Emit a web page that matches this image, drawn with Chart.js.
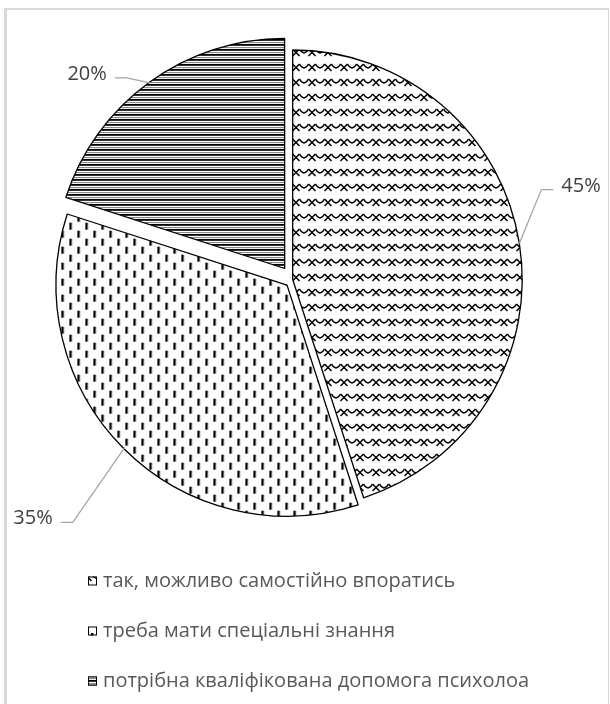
<!DOCTYPE html>
<html>
<head>
<meta charset="utf-8">
<script src="https://cdn.jsdelivr.net/npm/chart.js@4.4.0/dist/chart.umd.min.js"></script>
<style>
  html, body { margin: 0; padding: 0; background: #fff; }
  #wrap { position: relative; width: 610px; height: 704px; overflow: hidden; }
  #frame {
    position: absolute; left: 4px; top: 8px; width: 605px; height: 720px;
    box-sizing: border-box;
    border: 1px solid #d9d9d9; border-top-width: 2px; border-left-width: 3px;
  }
  #studentPie { position: absolute; left: 0; top: 0; }
</style>
</head>
<body>
<div id="wrap">
  <div id="frame"></div>
  <canvas id="studentPie" width="610" height="704"></canvas>
</div>
<script>
// data
const categories = [
  "так, можливо самостійно впоратись",
  "треба мати спеціальні знання",
  "потрібна кваліфікована допомога психолоа"
];
const shares = [45, 35, 20];
const shareLabels = ["45%", "35%", "20%"];

// styling
const sliceGap = [0, 8, 13.6];                 // how far each slice is pulled out, px
const leaderBend = [[22, -54], [-52, 75], [-23, -5]];
const textColor = "#404040";
const legendColor = "#595959";
const fontFace = "'Open Sans', 'Noto Sans', sans-serif";

function makeTile(w, h, draw) {
  const c = document.createElement("canvas");
  c.width = w; c.height = h;
  const g = c.getContext("2d");
  g.fillStyle = "#fff";
  g.fillRect(0, 0, w, h);
  draw(g);
  return c;
}

// crosses joined by little scallops
const scaleTile = makeTile(16, 15, g => {
  g.strokeStyle = "#000";
  g.lineWidth = 1.5;
  g.beginPath();
  g.moveTo(4.5, 4); g.lineTo(11.5, 11);
  g.moveTo(11.5, 4); g.lineTo(4.5, 11);
  g.stroke();
  [-16, 0].forEach(dx => {
    g.beginPath();
    g.moveTo(dx + 11.5, 4);
    g.quadraticCurveTo(dx + 16, 12, dx + 20.5, 4);
    g.stroke();
  });
});

// staggered vertical dashes
const dashTile = makeTile(16, 16, g => {
  g.fillStyle = "#000";
  g.fillRect(3, 1, 2.4, 7);
  g.fillRect(11, 9, 2.4, 7);
});

// horizontal stripes
const stripeTile = makeTile(8, 5, g => {
  const rows = ["#000", "#333", "#fff", "#888", "#eee"];
  rows.forEach((c, i) => { g.fillStyle = c; g.fillRect(0, i, 8, 1); });
});

const ctx = document.getElementById("studentPie");
const c2d = ctx.getContext("2d");
const fills = [scaleTile, dashTile, stripeTile].map(t => c2d.createPattern(t, "repeat"));

const pieLabels = {
  id: "pieLabels",
  afterDatasetsDraw(chart) {
    const g = chart.ctx;
    const meta = chart.getDatasetMeta(0);
    g.save();
    g.font = "20px " + fontFace;
    g.textBaseline = "alphabetic";
    meta.data.forEach((arc, i) => {
      const p = arc.getProps(["x", "y", "startAngle", "endAngle", "outerRadius"], true);
      const mid = (p.startAngle + p.endAngle) / 2;
      const r = p.outerRadius + sliceGap[i];
      const ax = p.x + Math.cos(mid) * r;
      const ay = p.y + Math.sin(mid) * r;
      const ex = ax + leaderBend[i][0];
      const ey = ay + leaderBend[i][1];
      const side = ex > p.x ? 1 : -1;
      const hx = ex + side * 12;
      g.strokeStyle = "#a6a6a6";
      g.lineWidth = 1.3;
      g.beginPath();
      g.moveTo(ax, ay);
      g.lineTo(ex, ey);
      g.lineTo(hx, ey);
      g.stroke();
      g.fillStyle = textColor;
      g.textAlign = side > 0 ? "left" : "right";
      g.fillText(shareLabels[i], hx + side * 8, ey + 2);
    });
    g.restore();
  }
};

const legendBox = { x: 88, y: 581, gap: 50, size: 9, textX: 103 };

const patternLegend = {
  id: "patternLegend",
  afterDraw(chart) {
    const g = chart.ctx;
    g.save();
    g.font = "20px " + fontFace;
    g.textBaseline = "middle";
    g.textAlign = "left";
    categories.forEach((name, i) => {
      const y = legendBox.y + i * legendBox.gap;
      const s = legendBox.size;
      g.fillStyle = fills[i];
      g.fillRect(legendBox.x, y - s / 2, s, s);
      g.strokeStyle = "#000";
      g.lineWidth = 1;
      g.strokeRect(legendBox.x + 0.5, y - s / 2 + 0.5, s - 1, s - 1);
      g.fillStyle = legendColor;
      g.fillText(name, legendBox.textX, y);
    });
    g.restore();
  }
};

new Chart(ctx, {
  type: "pie",
  data: {
    labels: categories,
    datasets: [{
      data: shares,
      backgroundColor: fills,
      borderColor: "#000",
      borderWidth: 1.3,
      offset: sliceGap.map(v => v * 4)
    }]
  },
  options: {
    responsive: false,
    animation: false,
    devicePixelRatio: 1,
    radius: 229.5,
    layout: { padding: { left: 20, right: 44.6, top: 20, bottom: 165 } },
    plugins: {
      legend: { display: false },
      tooltip: { enabled: false }
    }
  },
  plugins: [pieLabels, patternLegend]
});
</script>
</body>
</html>
